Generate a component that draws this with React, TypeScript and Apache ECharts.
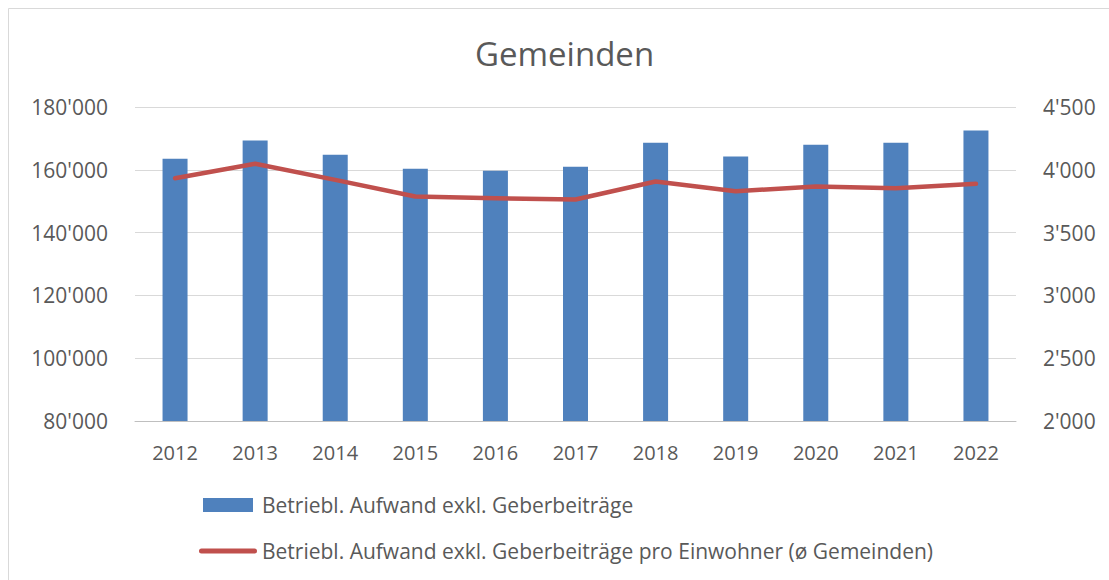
import React, { useEffect, useRef } from "react";
import * as echarts from "echarts";

const years = ["2012", "2013", "2014", "2015", "2016", "2017", "2018", "2019", "2020", "2021", "2022"];
const aufwand = [163500, 169300, 164800, 160300, 159700, 161000, 168600, 164200, 168000, 168600, 172500];
const proEinwohner = [3933, 4048, 3920, 3787, 3773, 3763, 3907, 3829, 3867, 3853, 3888];
const barName = "Betriebl. Aufwand exkl. Geberbeiträge";
const lineName = "Betriebl. Aufwand exkl. Geberbeiträge pro Einwohner (ø Gemeinden)";
const titleText = "Gemeinden";

const fmt = (v: number) => String(v).replace(/\B(?=(\d{3})+(?!\d))/g, "'");

const FONT = "'Open Sans', 'Noto Sans', sans-serif";
const GREY = "#595959";
const LINE_ICON = "path://M2.5,0 L55.5,0 A2.5,2.5 0 0 1 55.5,5 L2.5,5 A2.5,2.5 0 0 1 2.5,0 Z";

export default function App() {
  const ref = useRef<HTMLDivElement>(null);
  useEffect(() => {
    if (!ref.current) return;
    const chart = echarts.init(ref.current, undefined, { renderer: "svg" });
    chart.setOption({
      animation: false,
      backgroundColor: "#ffffff",
      textStyle: { fontFamily: FONT },
      title: {
        text: titleText,
        left: 470,
        top: 32,
        textStyle: { fontFamily: FONT, fontSize: 33, fontWeight: "normal", color: GREY },
      },
      graphic: [
        {
          type: "rect",
          shape: { x: 8.5, y: 8.5, width: 1200, height: 700 },
          style: { fill: "none", stroke: "#d9d9d9", lineWidth: 1 },
          silent: true,
        },
      ],
      grid: { left: 135, right: 93, top: 107, bottom: 159 },
      legend: {
        orient: "vertical",
        left: 194,
        top: 488,
        padding: 5,
        itemWidth: 58,
        itemHeight: 14,
        itemGap: 22,
        itemTextGap: 5,
        textStyle: { fontFamily: FONT, fontSize: 21, color: GREY, lineHeight: 24 },
        data: [
          { name: barName, icon: "path://M0,0 L50,0 L50,14 L0,14 Z" },
          { name: lineName, icon: LINE_ICON, itemStyle: { color: "#c0504d", borderWidth: 0 }, lineStyle: { width: 0 } },
        ],
      },
      xAxis: {
        type: "category",
        data: years,
        axisLine: { lineStyle: { color: "#bfbfbf", width: 1 } },
        axisTick: { show: false },
        axisLabel: { color: GREY, fontSize: 20, fontFamily: FONT, margin: 21 },
      },
      yAxis: [
        {
          type: "value",
          min: 80000,
          max: 180000,
          interval: 20000,
          axisLine: { show: false },
          axisTick: { show: false },
          splitLine: { lineStyle: { color: "#d9d9d9", width: 1 } },
          axisLabel: { color: GREY, fontSize: 21, fontFamily: FONT, margin: 27, formatter: fmt },
        },
        {
          type: "value",
          min: 2000,
          max: 4500,
          interval: 500,
          position: "right",
          axisLine: { show: false },
          axisTick: { show: false },
          splitLine: { show: false },
          axisLabel: { color: GREY, fontSize: 21, fontFamily: FONT, margin: 27, formatter: fmt },
        },
      ],
      series: [
        {
          name: barName,
          type: "bar",
          data: aufwand,
          barWidth: 25,
          itemStyle: { color: "#4f81bd" },
        },
        {
          name: lineName,
          type: "line",
          yAxisIndex: 1,
          data: proEinwohner,
          showSymbol: false,
          symbol: "none",
          lineStyle: { color: "#c0504d", width: 4.5, cap: "round", join: "round" },
          itemStyle: { color: "#c0504d" },
        },
      ],
    });
    return () => chart.dispose();
  }, []);
  return (
    <div
      ref={ref}
      style={{ position: "fixed", left: 0, top: 0, width: 1109, height: 580 }}
    />
  );
}
